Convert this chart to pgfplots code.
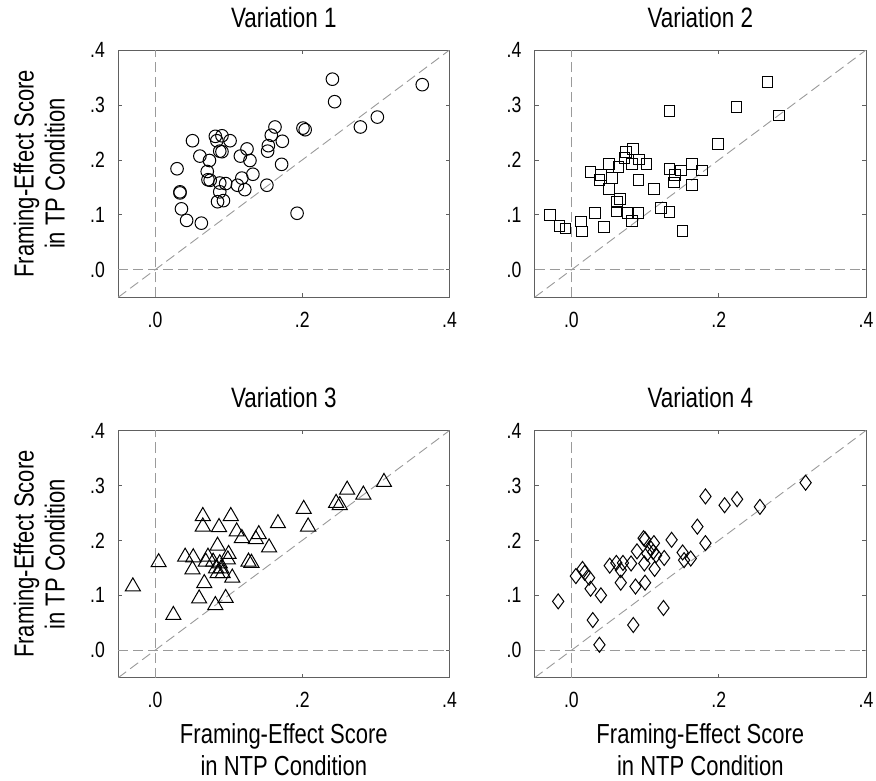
\documentclass[border=0pt]{standalone}
\usepackage{fontspec}
\setmainfont{Liberation Sans}[FakeStretch=0.8]
\usepackage{pgfplots}
\pgfplotsset{compat=1.18}
\usepgfplotslibrary{groupplots}

\pgfplotstableread{
x y
0.241 0.347
0.363 0.337
0.244 0.306
0.302 0.278
0.279 0.260
0.201 0.258
0.204 0.255
0.163 0.260
0.158 0.245
0.173 0.234
0.154 0.226
0.153 0.216
0.172 0.192
0.152 0.154
0.193 0.103
0.051 0.235
0.082 0.243
0.091 0.244
0.084 0.235
0.102 0.235
0.088 0.216
0.091 0.215
0.061 0.207
0.074 0.199
0.125 0.220
0.116 0.207
0.129 0.199
0.030 0.184
0.071 0.179
0.072 0.164
0.075 0.163
0.088 0.158
0.096 0.157
0.118 0.167
0.133 0.174
0.112 0.154
0.122 0.146
0.088 0.142
0.085 0.124
0.093 0.126
0.034 0.142
0.034 0.140
0.036 0.111
0.043 0.090
0.063 0.085
}\varone

\pgfplotstableread{
x y
0.266 0.342
0.282 0.281
0.224 0.296
0.133 0.289
0.199 0.229
0.084 0.220
0.074 0.215
0.072 0.204
0.092 0.201
0.082 0.193
0.102 0.193
0.051 0.193
0.064 0.187
0.026 0.178
0.040 0.173
0.038 0.164
0.055 0.167
0.051 0.147
0.091 0.164
0.133 0.184
0.149 0.181
0.141 0.173
0.139 0.159
0.164 0.193
0.177 0.181
0.164 0.154
0.112 0.147
0.066 0.129
0.062 0.124
0.061 0.106
0.076 0.103
0.091 0.103
0.082 0.089
0.122 0.113
0.133 0.105
0.151 0.071
-0.029 0.100
-0.016 0.080
-0.008 0.075
0.013 0.088
0.014 0.070
0.032 0.103
0.044 0.078
}\vartwo

\pgfplotstableread{
x y
0.311 0.306
0.261 0.292
0.283 0.283
0.246 0.268
0.251 0.264
0.202 0.257
0.208 0.225
0.167 0.231
0.065 0.244
0.103 0.244
0.065 0.225
0.087 0.224
0.111 0.216
0.118 0.204
0.141 0.211
0.137 0.202
0.155 0.187
0.085 0.190
0.100 0.175
0.041 0.170
0.052 0.169
0.072 0.170
0.005 0.160
0.127 0.161
0.131 0.159
0.069 0.161
0.079 0.161
0.088 0.158
0.083 0.149
0.090 0.149
0.085 0.140
0.092 0.140
0.051 0.147
0.105 0.132
0.067 0.122
-0.030 0.116
0.060 0.094
0.096 0.095
0.082 0.082
0.025 0.064
0.099 0.165
}\varthree

\pgfplotstableread{
x y
0.318 0.305
0.182 0.280
0.208 0.264
0.225 0.275
0.256 0.261
0.171 0.225
0.182 0.195
0.136 0.201
0.098 0.204
0.100 0.202
0.112 0.195
0.108 0.185
0.111 0.179
0.115 0.173
0.126 0.168
0.089 0.180
0.151 0.178
0.153 0.164
0.162 0.167
0.052 0.154
0.061 0.159
0.070 0.159
0.081 0.158
0.067 0.146
0.099 0.158
0.113 0.148
0.067 0.123
0.087 0.116
0.100 0.123
0.006 0.135
0.015 0.148
0.018 0.141
0.024 0.132
0.026 0.112
0.040 0.100
-0.018 0.089
0.029 0.055
0.084 0.046
0.125 0.077
0.038 0.010
0.103 0.176
}\varfour

\definecolor{framegray}{HTML}{606060}
\definecolor{dashgray}{HTML}{9A9A9A}

\begin{document}
\begin{tikzpicture}
\begin{groupplot}[
  group style={group size=2 by 2, horizontal sep=85pt, vertical sep=133pt},
  width=331pt, height=247pt, scale only axis,
  xmin=-0.05, xmax=0.4, ymin=-0.05, ymax=0.4,
  xtick={0,0.2,0.4}, xticklabels={.0,.2,.4},
  ytick={0,0.1,0.2,0.3,0.4}, yticklabels={.0,.1,.2,.3,.4},
  axis line style={framegray, line width=0.9pt},
  tick style={framegray, line width=0.9pt},
  major tick length=4pt,
  xticklabel style={font=\fontsize{22pt}{26pt}\selectfont, anchor=base, inner sep=0pt, yshift=-30pt},
  yticklabel style={font=\fontsize{22pt}{26pt}\selectfont, anchor=east, inner sep=0pt, xshift=-13pt},
  title style={font=\fontsize{28pt}{32pt}\selectfont, at={(rel axis cs:0.5,1)}, anchor=base, inner sep=0pt, yshift=17pt},
  every axis x label/.style={at={(rel axis cs:0.5,0)}, anchor=north, inner sep=0pt, yshift=-46pt, align=center, font=\fontsize{27.5pt}{31pt}\selectfont},
  every axis y label/.style={at={(rel axis cs:0,0.5)}, rotate=90, anchor=south, inner sep=0pt, yshift=53pt, align=center, font=\fontsize{27.5pt}{31pt}\selectfont},
  ref/.style={dashgray, line width=0.9pt, dash pattern=on 10pt off 5pt, forget plot},
  pts/.style={only marks, black, line width=1pt, mark options={solid, fill=none}},
]
\nextgroupplot[title={Variation 1}, ylabel={Framing-Effect Score\\in TP Condition}]
\addplot[ref] coordinates {(-0.05,-0.05) (0.4,0.4)};
\addplot[ref] coordinates {(0,-0.05) (0,0.4)};
\addplot[ref] coordinates {(-0.05,0) (0.4,0)};
\addplot[pts, mark=o, mark size=6.3pt] table[x=x,y=y] {\varone};

\nextgroupplot[title={Variation 2}]
\addplot[ref] coordinates {(-0.05,-0.05) (0.4,0.4)};
\addplot[ref] coordinates {(0,-0.05) (0,0.4)};
\addplot[ref] coordinates {(-0.05,0) (0.4,0)};
\addplot[pts, mark=square, mark size=5.3pt] table[x=x,y=y] {\vartwo};

\nextgroupplot[title={Variation 3}, ylabel={Framing-Effect Score\\in TP Condition}, xlabel={Framing-Effect Score\\in NTP Condition}]
\addplot[ref] coordinates {(-0.05,-0.05) (0.4,0.4)};
\addplot[ref] coordinates {(0,-0.05) (0,0.4)};
\addplot[ref] coordinates {(-0.05,0) (0.4,0)};
\addplot[pts, mark=triangle, mark size=8.7pt] table[x=x,y=y] {\varthree};

\nextgroupplot[title={Variation 4}, xlabel={Framing-Effect Score\\in NTP Condition}]
\addplot[ref] coordinates {(-0.05,-0.05) (0.4,0.4)};
\addplot[ref] coordinates {(0,-0.05) (0,0.4)};
\addplot[ref] coordinates {(-0.05,0) (0.4,0)};
\addplot[pts, mark=diamond, mark size=7.5pt] table[x=x,y=y] {\varfour};
\end{groupplot}
\pgfresetboundingbox
\path (group c1r1.north west) ++(-118pt,50pt);
\path (group c2r2.south east) ++(10pt,-103pt);
\end{tikzpicture}
\end{document}
